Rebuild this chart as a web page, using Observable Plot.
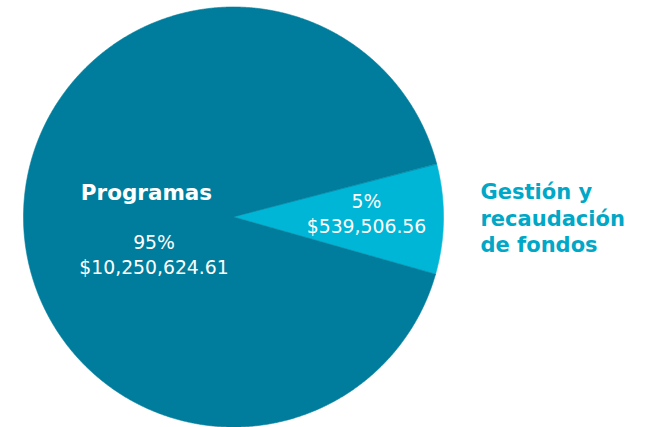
<!DOCTYPE html>
<html><head><meta charset="utf-8">
<script src="https://cdn.jsdelivr.net/npm/d3@7"></script>
<script src="https://cdn.jsdelivr.net/npm/@observablehq/plot@0.6"></script>
<style>html,body{margin:0;padding:0;background:#fff;overflow:hidden}</style>
</head><body><div id="chart"></div>
<script>
// ---- data ----
const categories = ["Gestión y recaudación de fondos", "Programas"];
const amounts = [539506.56, 10250624.61];
const percentLabels = ["5%", "95%"];
const amountLabels = ["$539,506.56", "$10,250,624.61"];
const sliceTitles = ["Gestión y\nrecaudación\nde fondos", "Programas"];
// sweep of each slice as drawn in the reference picture (degrees)
const drawnSweep = [30.5, 329.5];

// ---- layout / style ----
const W = 648, H = 427;
const cx = 233, cy = 216.5, R = 210;
const startDeg = 75.3;
const sliceColors = ["#00b6d6", "#007d9c"];
const titleColor = "#00a7c7";
const ux = px => (px - cx) / R;
const uy = py => (cy - py) / R;

const pie = d3.pie().sort(null).value((d, i) => drawnSweep[i])
  .startAngle(startDeg * Math.PI / 180)
  .endAngle(startDeg * Math.PI / 180 + 2 * Math.PI);
const arcs = pie(categories);

const pts = [];
arcs.forEach((a, i) => {
  const key = categories[i];
  pts.push({key, x: 0, y: 0});
  const n = Math.max(2, Math.ceil((a.endAngle - a.startAngle) / (Math.PI / 720)));
  for (let k = 0; k <= n; k++) {
    const t = a.startAngle + (a.endAngle - a.startAngle) * k / n;
    pts.push({key, x: Math.sin(t), y: Math.cos(t)});
  }
});

const font = "DejaVu Sans";
const chart = Plot.plot({
  width: W, height: H,
  margin: 0,
  x: {domain: [ux(0), ux(W)], range: [0, W], axis: null},
  y: {domain: [uy(H), uy(0)], range: [H, 0], axis: null},
  color: {domain: categories, range: sliceColors},
  style: {background: "#fff"},
  marks: [
    Plot.line(pts, {x: "x", y: "y", z: "key", fill: "key", stroke: "key", strokeWidth: 0.6, curve: "linear-closed"}),
    // Programas title
    Plot.text([sliceTitles[1]], {x: ux(146), y: uy(192.6), text: d => d, fill: "#fff",
      fontFamily: font, fontWeight: "bold", fontSize: 21.5}),
    // Programas values
    Plot.text([percentLabels[1] + "\n" + amountLabels[1]], {x: ux(153.5), y: uy(252.7), text: d => d, fill: "#fff",
      fontFamily: font, fontSize: 18.8, lineHeight: 25 / 18.8}),
    // small slice values
    Plot.text([percentLabels[0] + "\n" + amountLabels[0]], {x: ux(366), y: uy(211.7), text: d => d, fill: "#fff",
      fontFamily: font, fontSize: 18.8, lineHeight: 25 / 18.8}),
    // small slice title (outside)
    Plot.text([sliceTitles[0]], {x: ux(480), y: uy(217), text: d => d, fill: titleColor, textAnchor: "start",
      fontFamily: font, fontWeight: "bold", fontSize: 21, lineHeight: 26.5 / 21})
  ]
});
document.getElementById("chart").append(chart);
</script>
</body></html>
